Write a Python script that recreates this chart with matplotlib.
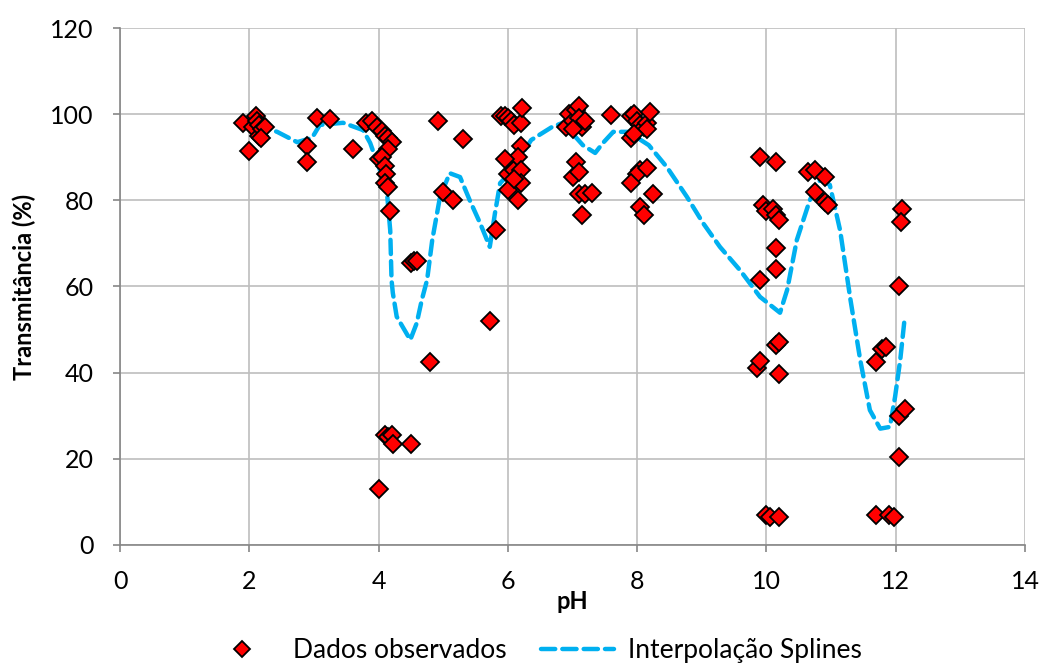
import matplotlib
matplotlib.use("Agg")
import matplotlib.pyplot as plt
from matplotlib.lines import Line2D

plt.rcParams['font.family'] = ['Lato', 'DejaVu Sans']

# Observed data (pH, transmittance %)
ph_obs = [1.90, 2.00, 2.05, 2.10, 2.12, 2.15, 2.15, 2.20, 2.25, 2.18,
          2.90, 2.90, 3.05, 3.25, 3.60, 3.80,
          3.90, 3.98, 4.05, 4.10, 4.15, 4.20, 4.15, 4.00, 4.05, 4.10, 4.12, 4.10, 4.15, 4.18,
          4.50, 4.55, 4.60,
          4.10, 4.15, 4.20, 4.22, 4.50, 4.00, 4.80,
          4.92, 5.00, 5.15, 5.30, 5.72, 5.82,
          5.90, 5.95, 6.00, 6.05, 6.10, 6.20, 6.22, 6.20, 6.05, 6.00, 6.10, 6.15, 6.20, 6.00, 6.15, 6.20, 6.10, 5.95,
          6.90, 6.95, 7.00, 7.05, 7.10, 7.10, 7.15, 7.20, 7.00, 7.05, 7.00, 7.10, 7.10, 7.20, 7.15, 7.30,
          7.60,
          7.90, 7.95, 8.00, 8.05, 8.10, 8.15, 8.20, 8.15, 7.90, 7.95, 8.05, 8.00, 7.90, 8.15, 8.25, 8.05, 8.10,
          9.90, 10.15, 9.95, 10.00, 10.10, 10.15, 10.20, 10.15, 10.15, 9.90, 9.85, 9.90, 10.15, 10.20, 10.20, 10.00, 10.05, 10.20,
          10.65, 10.75, 10.90, 10.75, 10.90, 10.95,
          11.70, 11.78, 11.85, 11.70, 11.90, 11.98, 12.05, 12.10, 12.08, 12.05, 12.15, 12.05]
t_obs = [98.0, 91.5, 97.0, 99.5, 98.5, 97.5, 95.0, 96.5, 97.0, 94.5,
         92.5, 89.0, 99.0, 98.8, 92.0, 98.0,
         98.5, 97.0, 96.0, 95.0, 94.5, 93.5, 92.0, 89.5, 90.0, 88.0, 86.0, 84.0, 83.0, 77.5,
         65.5, 66.0, 66.0,
         25.5, 25.0, 25.5, 23.5, 23.5, 13.0, 42.5,
         98.5, 82.0, 80.0, 94.3, 52.0, 73.0,
         99.5, 99.5, 99.0, 98.5, 97.5, 98.0, 101.5, 92.5, 88.5, 86.0, 87.0, 90.0, 87.0, 82.5, 80.0, 84.0, 85.0, 89.5,
         97.0, 100.0, 98.5, 101.0, 102.0, 99.0, 97.0, 98.5, 96.5, 89.0, 85.5, 86.5, 81.5, 81.5, 76.5, 81.7,
         99.8,
         99.5, 100.0, 98.5, 97.5, 97.0, 98.0, 100.5, 96.5, 94.5, 95.5, 87.0, 86.0, 84.0, 87.5, 81.5, 78.5, 76.5,
         90.0, 88.8, 79.0, 77.5, 78.0, 76.5, 75.5, 69.0, 64.0, 61.5, 41.0, 42.7, 46.5, 47.2, 39.7, 7.0, 6.5, 6.5,
         86.5, 87.0, 85.5, 82.0, 79.5, 78.8,
         42.5, 45.5, 46.0, 7.0, 7.0, 6.5, 60.0, 78.0, 75.0, 30.0, 31.5, 20.3]

# Spline interpolation curve
ph_spl = [2.10, 2.43, 2.74, 2.97, 3.09, 3.45, 3.76, 3.87, 4.02, 4.13, 4.18, 4.20, 4.22, 4.28,
          4.49, 4.59, 4.67, 4.75, 4.83, 4.95, 5.10, 5.26, 5.41, 5.57, 5.72, 5.80, 5.88, 6.03,
          6.36, 6.68, 6.85, 7.16, 7.35, 7.47, 7.63, 7.86, 8.18, 8.46, 8.77, 9.02, 9.28, 9.59,
          9.90, 10.21, 10.32, 10.47, 10.67, 10.83, 10.98, 11.14, 11.30, 11.45, 11.60, 11.76,
          11.91, 11.99, 12.07, 12.14]
t_spl = [97.5, 95.9, 93.5, 94.5, 97.5, 98.0, 96.3, 93.3, 87.0, 81.7, 73.0, 61.5, 58.5, 53.0,
         47.6, 51.5, 57.0, 61.5, 70.8, 80.8, 86.3, 85.4, 80.0, 74.7, 69.2, 77.0, 84.0, 86.3,
         94.0, 97.0, 98.0, 92.8, 91.0, 93.3, 95.9, 95.9, 92.8, 87.7, 80.8, 74.7, 69.2, 63.8,
         57.6, 53.9, 59.2, 70.8, 80.0, 84.7, 83.6, 73.0, 56.9, 43.0, 31.3, 27.0,
         27.4, 34.4, 43.0, 52.9]

x_ticks = [0, 2, 4, 6, 8, 10, 12, 14]
y_ticks = [0, 20, 40, 60, 80, 100, 120]

fig = plt.figure(figsize=(10.42, 6.67), dpi=100)
ax = fig.add_axes([0.1152, 0.183, 0.8685, 0.775])

cyan = '#00B0F0'
ax.plot(ph_spl, t_spl, color=cyan, lw=3.2, dashes=(3.2, 1.6), zorder=3,
        solid_capstyle='round', dash_capstyle='round')
ax.plot(ph_obs, t_obs, linestyle='none', marker='D', markersize=9.5,
        markerfacecolor='#FF0000', markeredgecolor='black', markeredgewidth=1.3, zorder=4)

ax.set_xlim(0, 14)
ax.set_ylim(0, 120)
ax.set_xticks(x_ticks)
ax.set_yticks(y_ticks)
ax.grid(True, color='#BEBEBE', linewidth=1.2)
ax.set_axisbelow(True)
for s in ['top', 'right']:
    ax.spines[s].set_visible(False)
for s in ['left', 'bottom']:
    ax.spines[s].set_color('#868686')
    ax.spines[s].set_linewidth(1.2)
ax.tick_params(axis='both', labelsize=18, colors='#868686', labelcolor='black',
               length=5, width=1.2, direction='out')
ax.tick_params(axis='x', pad=13)
ax.tick_params(axis='y', pad=14)

ax.set_xlabel('pH', fontsize=17, fontweight='bold', labelpad=-2)
ax.set_ylabel('Transmitância (%)', fontsize=17, fontweight='bold', labelpad=10)

handles = [Line2D([], [], linestyle='none', marker='D', markersize=8.5,
                  markerfacecolor='#FF0000', markeredgecolor='black', markeredgewidth=1.3),
           Line2D([], [], color=cyan, lw=3.2, dashes=(3.2, 1.6), dash_capstyle='round')]
fig.legend(handles, ['Dados observados', 'Interpolação Splines'], loc='lower center',
           bbox_to_anchor=(0.512, -0.03), ncol=2, frameon=False, fontsize=19,
           handlelength=2.8, columnspacing=1.3, handletextpad=0.5)

fig.savefig('out.png', dpi=100)
